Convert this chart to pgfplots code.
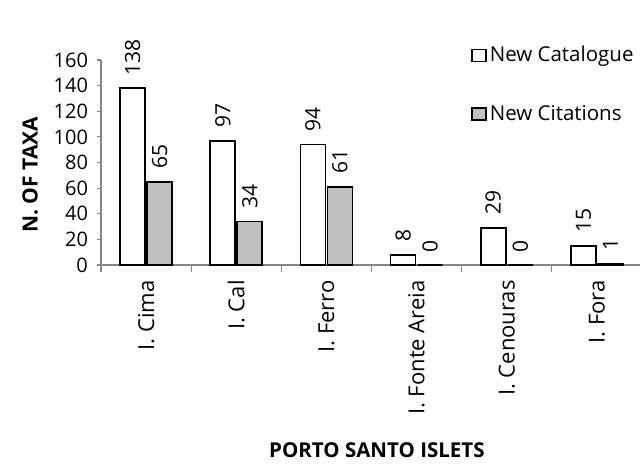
\documentclass[border=0pt]{standalone}
\usepackage{fontspec}
\setmainfont{Open Sans}
\usepackage{pgfplots}
\pgfplotsset{compat=1.18}
\definecolor{citgray}{RGB}{192,192,192}
\definecolor{axgray}{RGB}{134,134,134}

\begin{document}
\begin{tikzpicture}
\path[use as bounding box] (-50.5pt,-99pt) rectangle (269.5pt,132.5pt);
\begin{axis}[
    at={(0,0)}, anchor=south west,
    scale only axis, width=270.5pt, height=102.5pt,
    ybar=1pt, bar width=12.5pt,
    xmin=-0.5, xmax=5.5, ymin=0, ymax=160,
    clip=false,
    axis x line=bottom, axis y line=left,
    axis line style={axgray, line width=0.6pt, -},
    tick align=outside,
    xtick={0,...,5},
    xticklabels={I. Cima, I. Cal, I. Ferro, I. Fonte Areia, I. Cenouras, I. Fora},
    major x tick style={draw=none},
    minor xtick={-0.5,0.5,...,5.5},
    minor tick length=3.5pt,
    major tick length=2pt,
    tick style={axgray, line width=0.6pt},
    ytick={0,20,...,160},
    xticklabel style={rotate=90, anchor=east, font=\fontsize{11}{13}\selectfont, inner sep=5.5pt},
    yticklabel style={font=\fontsize{10}{12}\selectfont, xshift=-1pt},
    /pgf/number format/assume math mode=true,
    xlabel={\bfseries PORTO SANTO ISLETS},
    xlabel style={at={(axis description cs:0.51,0)}, anchor=center, yshift=-92.5pt, font=\fontsize{10.25}{12}\selectfont},
    ylabel={\bfseries N. OF TAXA},
    ylabel style={at={(axis description cs:-0.131,0.44)}, anchor=center, font=\fontsize{10.5}{12}\selectfont},
    nodes near coords,
    every node near coord/.append style={rotate=90, anchor=west, inner sep=6pt, font=\fontsize{10.5}{12}\selectfont, black},
    legend style={at={(0.684,1.083)}, anchor=north west, draw=none, fill=none,
        font=\fontsize{10.25}{12}\selectfont, row sep=17pt, inner sep=0pt,
        nodes={inner sep=1.5pt}},
    legend cell align=left,
    legend image code/.code={\draw[#1, line width=0.7pt] (0pt,-3pt) rectangle (7pt,3pt);},
]
\addplot[draw=black, fill=white, line width=0.9pt] coordinates {
    (0,138) (1,97) (2,94) (3,8) (4,29) (5,15)
};
\addlegendentry{New Catalogue}
\addplot[draw=black, fill=citgray, line width=0.9pt] coordinates {
    (0,65) (1,34) (2,61) (3,0) (4,0) (5,1)
};
\addlegendentry{New Citations}
\end{axis}
\end{tikzpicture}
\end{document}
